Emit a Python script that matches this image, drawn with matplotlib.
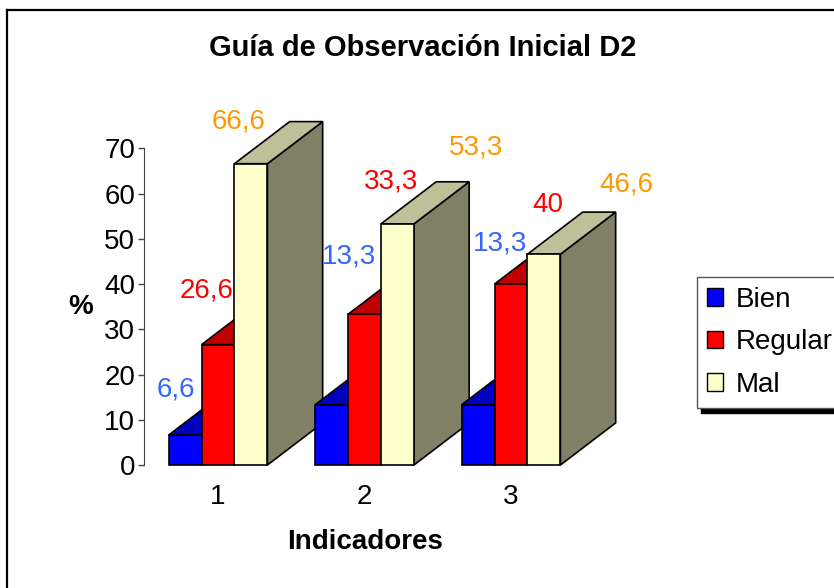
import matplotlib
matplotlib.use("Agg")
from matplotlib import pyplot as plt
from matplotlib.patches import Polygon, Patch
from matplotlib.lines import Line2D

plt.rcParams["font.family"] = ["Liberation Sans", "DejaVu Sans"]

# data
indicadores = ["1", "2", "3"]
series = ["Bien", "Regular", "Mal"]
bien = [6.6, 13.3, 13.3]
regular = [26.6, 33.3, 40]
mal = [66.6, 53.3, 46.6]
labels_txt = [["6,6", "13,3", "13,3"], ["26,6", "33,3", "40"], ["66,6", "53,3", "46,6"]]

# styles
front_cols = ["#0000FF", "#FF0000", "#FFFFCC"]
top_cols = ["#0000BF", "#BF0000", "#BFBF99"]
side_cols = ["#000080", "#800000", "#808066"]
label_cols = ["#3366FF", "#FF0000", "#FF9900"]
# label offsets in pixels from bar front-top centre (Excel placed them by hand)
label_off = [[(-9, 46), (17, 148), (22, 161)],
             [(-11, 54), (27, 133), (37, 79)],
             [(-12, 42), (79, 76), (82, 70)]]

bw = 0.225      # bar width
dx, dy = 0.377, 9.3   # 3d depth offset (x units, value units)
fs = 20

fig = plt.figure(figsize=(8.34, 5.88), dpi=100)
ax = fig.add_axes([143.5 / 834, 123 / 588, 455.4 / 834, 316.7 / 588])
ax.set_xlim(0.4915, 3.6)
ax.set_ylim(0, 70)

values = [bien, regular, mal]
for g in range(len(indicadores)):
    xc = g + 1
    for s in range(len(series)):
        v = values[s][g]
        x0 = xc + (s - 1.5) * bw
        x1 = x0 + bw
        side = Polygon([(x1, 0), (x1 + dx, dy), (x1 + dx, v + dy), (x1, v)],
                       closed=True, fc=side_cols[s], ec="black", lw=1.2, clip_on=False)
        top = Polygon([(x0, v), (x0 + dx, v + dy), (x1 + dx, v + dy), (x1, v)],
                      closed=True, fc=top_cols[s], ec="black", lw=1.2, clip_on=False)
        front = Polygon([(x0, 0), (x1, 0), (x1, v), (x0, v)],
                        closed=True, fc=front_cols[s], ec="black", lw=1.2, clip_on=False)
        for p in (side, top, front):
            ax.add_patch(p)

for g in range(len(indicadores)):
    for s in range(len(series)):
        v = values[s][g]
        ox, oy = label_off[s][g]
        ax.annotate(labels_txt[s][g], xy=(g + 1 + (s - 1) * bw, v),
                    xytext=(ox, oy), textcoords="offset pixels",
                    ha="center", va="center", fontsize=fs, color=label_cols[s],
                    annotation_clip=False)

ax.set_xticks([1, 2, 3])
ax.set_xticklabels(indicadores)
ax.set_yticks(range(0, 71, 10))
ax.tick_params(axis="x", length=0, pad=14, labelsize=fs)
ax.tick_params(axis="y", length=4, width=1, pad=2, labelsize=fs, color="#444444")
for sp in ["top", "right", "bottom"]:
    ax.spines[sp].set_visible(False)
ax.spines["left"].set_color("#444444")
ax.patch.set_visible(False)

ax.set_xlabel("Indicadores", fontsize=fs, fontweight="bold")
ax.xaxis.set_label_coords(0.4864, -0.243)
ax.xaxis.label.set_va("center")
fig.text(81 / 834, 1 - 307 / 588, "%", fontsize=fs, fontweight="bold",
         ha="center", va="center")
fig.text(423 / 834, 1 - 48 / 588, "Guía de Observación Inicial D2", fontsize=21,
         fontweight="bold", ha="center", va="center")

handles = [Patch(fc=front_cols[i], ec="black", lw=1, label=series[i]) for i in range(3)]
fig.legend(handles=handles, loc="upper left", bbox_to_anchor=(697 / 834, 1 - 277 / 588),
           borderaxespad=0, fontsize=fs, handlelength=0.6, handleheight=0.6,
           handletextpad=0.45, labelspacing=0.6, borderpad=0.35, fancybox=False,
           edgecolor="#555555", framealpha=1,
           shadow={"ox": 3, "oy": -3.5, "shade": 1.0, "alpha": 1})

# chart area border
fig.add_artist(Line2D([7 / 834, 7 / 834], [0, 1 - 10 / 588], color="black", lw=1.6))
fig.add_artist(Line2D([7 / 834, 1], [1 - 10 / 588, 1 - 10 / 588], color="black", lw=1.6))

fig.savefig("out.png", dpi=100)
